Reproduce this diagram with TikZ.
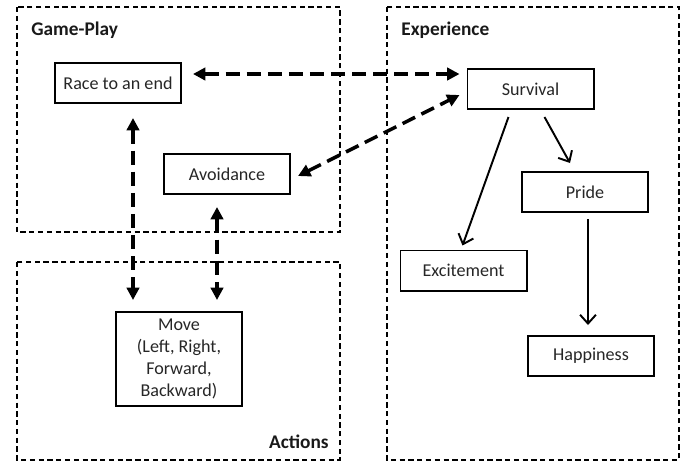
\documentclass[tikz,border=0pt]{standalone}
\usepackage{fontspec}
\setmainfont{Carlito}
\usetikzlibrary{arrows.meta}

\begin{document}
\begin{tikzpicture}[x=0.02cm, y=-0.02cm,
    box/.style={draw, line width=1pt, minimum width=128*0.02cm-\pgflinewidth, minimum height=42*0.02cm-\pgflinewidth, inner sep=0pt, font=\fontsize{10.3}{12.5}\selectfont, text=black!85},
    frame/.style={draw, densely dashed, line width=0.6pt},
    title/.style={font=\fontsize{11}{13}\selectfont\bfseries, text=black!90, inner sep=0pt},
    dasharrow/.style={line width=2pt, dash pattern=on 8pt off 4pt, {Triangle[length=7pt,width=7pt]}-{Triangle[length=7pt,width=7pt]}},
    solidarrow/.style={line width=1.1pt, -{Straight Barb[length=5pt,width=9pt,line width=1.1pt]}}]
    \useasboundingbox (0,0) rectangle (686,461);

    % Frames
    \draw[frame] (17,7) rectangle (340,232);
    \draw[frame] (17,262) rectangle (340,460);
    \draw[frame] (387,7) rectangle (679,460);
    \node[title, anchor=west] (gameplay) at (31,30) {Game-Play};
    \node[title, anchor=west] (experience) at (401,30) {Experience};
    \node[title, anchor=east] (actions) at (329,442) {Actions};

    % Boxes
    \node[box] (race) at (118,83) {Race to an end};
    \node[box] (avoid) at (227,174) {Avoidance};
    \node[box, minimum height=96*0.02cm-\pgflinewidth, align=center] (move) at (179,359) {Move\\(Left, Right,\\Forward,\\Backward)};
    \node[box] (surv) at (530.5,89) {Survival};
    \node[box] (pride) at (585,192) {Pride};
    \node[box] (excite) at (463.5,270.5) {Excitement};
    \node[box] (happy) at (591,356) {Happiness};

    % Links
    \draw[dasharrow] ([shift={(11,-9)}]race.east) -- ([shift={(-7,-15)}]surv.west);
    \draw[dasharrow] ([shift={(7,2)}]avoid.east) -- ([shift={(-7,6)}]surv.west);
    \draw[dasharrow] ([shift={(15,14)}]race.south) -- ([shift={(-46,-11)}]move.north);
    \draw[dasharrow] ([shift={(-10,12)}]avoid.south) -- ([shift={(38,-11)}]move.north);
    \draw[solidarrow] ([shift={(-22,7)}]surv.south) -- ([shift={(-1,-4)}]excite.north);
    \draw[solidarrow] ([shift={(14,7)}]surv.south) -- ([shift={(-15,-8)}]pride.north);
    \draw[solidarrow] ([shift={(3,6)}]pride.south) -- ([shift={(-3,-10)}]happy.north);
\end{tikzpicture}
\end{document}
